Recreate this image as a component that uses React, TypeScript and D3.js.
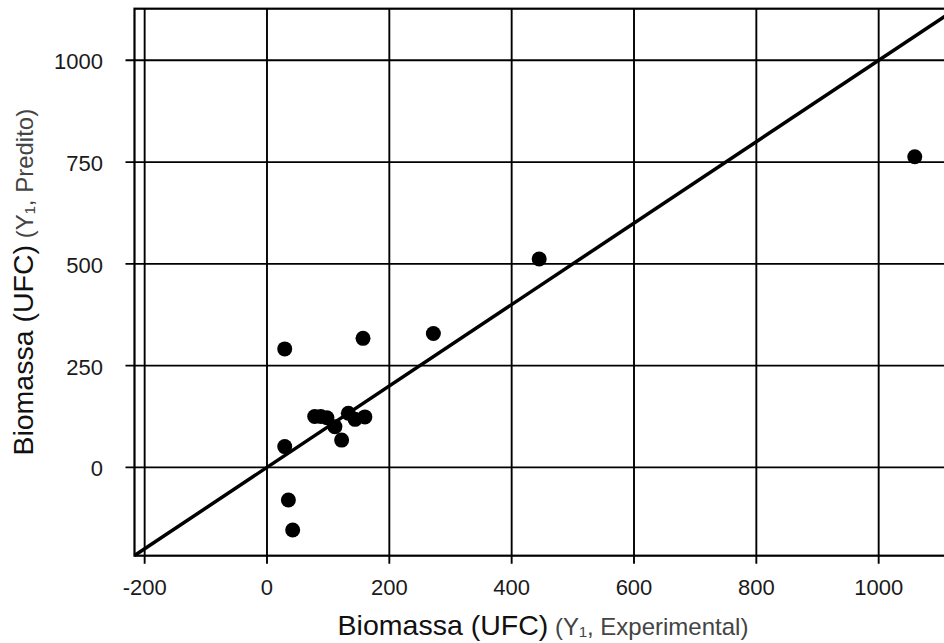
import * as d3 from 'd3';

// experimental vs predicted biomass (UFC)
const experimental = [29, 157, 272, 445, 1059, 29, 35, 42, 78, 88, 98, 111, 122, 133, 144, 160];
const predicted = [291, 317, 329, 512, 763, 51, -80, -154, 125, 125, 122, 100, 67, 133, 118, 124];
const xTicks = [-200, 0, 200, 400, 600, 800, 1000];
const yTicks = [0, 250, 500, 750, 1000];

export default function App() {
	const width = 944;
	const height = 643;
	const left = 134.5;
	const top = 8.7;
	const bottom = 555.7;

	const x = d3.scaleLinear().domain([-216.6, 1106.8]).range([left, width]);
	const y = d3.scaleLinear().domain([-217, 1126.8]).range([bottom, top]);

	const diag = d3
		.line<number>()
		.x((d) => x(d))
		.y((d) => y(d));

	const font = "'Liberation Sans', Arial, sans-serif";

	return (
		<div style={{ position: 'absolute', left: 0, top: 0 }}>
			<svg width={width} height={height} style={{ display: 'block', background: '#fff' }}>
				{/* grid + ticks */}
				{xTicks.map((t) => (
					<g key={'x' + t}>
						<line x1={x(t)} x2={x(t)} y1={top} y2={bottom + 8} stroke='#000' strokeWidth={1.9} />
						<text x={x(t)} y={595} textAnchor='middle' fontFamily={font} fontSize={22} fill='#1a1a1a'>
							{t}
						</text>
					</g>
				))}
				{yTicks.map((t) => (
					<g key={'y' + t}>
						<line x1={left - 9} x2={width} y1={y(t)} y2={y(t)} stroke='#000' strokeWidth={1.9} />
						<text x={103} y={y(t) + 9} textAnchor='end' fontFamily={font} fontSize={22} fill='#1a1a1a'>
							{t}
						</text>
					</g>
				))}

				{/* frame */}
				<rect x={left} y={top} width={x(1127) - left} height={bottom - top} fill='none' stroke='#000' strokeWidth={2.2} />

				{/* y = x */}
				<path d={diag([-216.6, 1126.8]) ?? ''} fill='none' stroke='#000' strokeWidth={3.5} />

				{/* points */}
				{experimental.map((v, i) => (
					<circle key={i} cx={x(v)} cy={y(predicted[i])} r={7.5} fill='#000' />
				))}

				{/* axis titles */}
				<text x={543} y={635} textAnchor='middle' fontFamily={font} fill='#111'>
					<tspan fontSize={28.5}>Biomassa (UFC)</tspan>
					<tspan fontSize={24} fill='#444'> (Y₁, Experimental)</tspan>
				</text>
				<text
					transform={`translate(33,${(top + bottom) / 2}) rotate(-90)`}
					textAnchor='middle'
					fontFamily={font}
					fill='#111'
				>
					<tspan fontSize={28.5}>Biomassa (UFC)</tspan>
					<tspan fontSize={24} fill='#444'> (Y₁, Predito)</tspan>
				</text>
			</svg>
		</div>
	);
}
